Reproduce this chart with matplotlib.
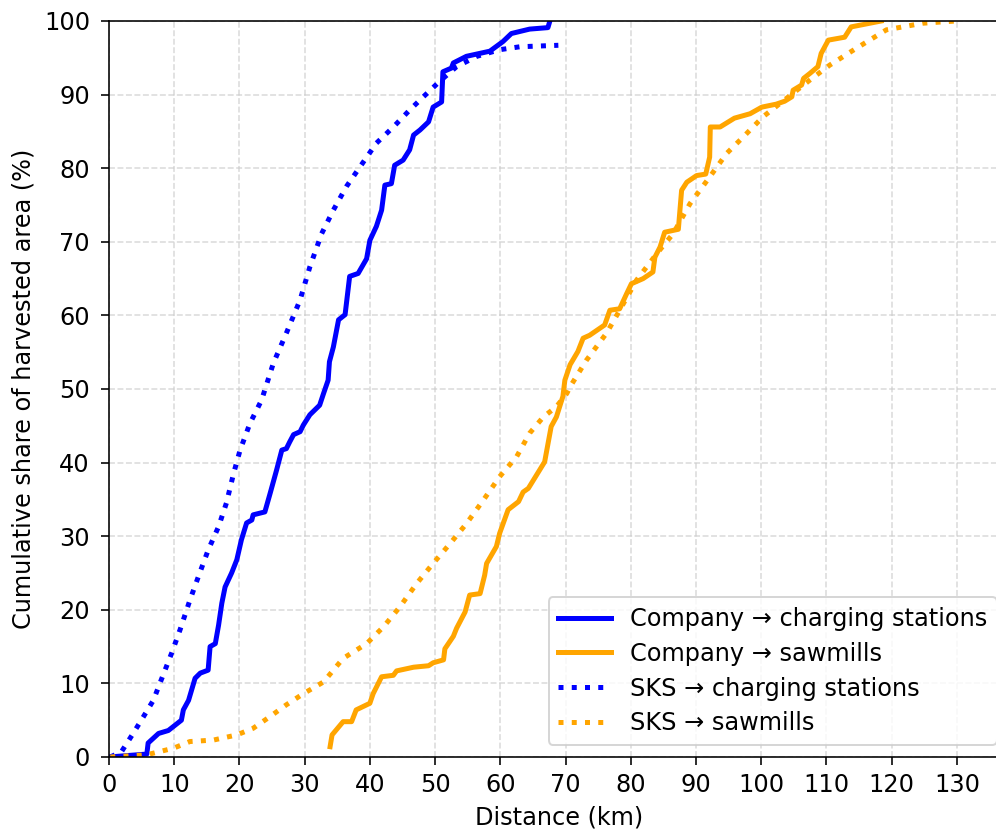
import matplotlib
matplotlib.use("Agg")
import matplotlib.pyplot as plt

# Company -> charging stations
cc_x = [0.0, 5.8, 6.0, 7.6, 9.1, 11.1, 11.4, 12.2, 13.2, 14.0, 15.2, 15.5, 16.3, 16.8, 17.3, 17.8,
        18.8, 19.6, 20.3, 21.1, 21.9, 22.1, 23.9, 24.7, 25.7, 26.5, 27.2, 27.7, 28.3, 29.3, 29.8,
        30.8, 32.3, 32.9, 33.6, 33.8, 34.4, 35.2, 36.2, 36.9, 38.2, 39.5, 40.0, 41.0, 41.8, 42.3,
        43.3, 43.8, 45.1, 46.1, 46.7, 47.7, 49.0, 49.7, 51.0, 51.2, 52.5, 52.8, 54.8, 58.4, 60.4,
        61.7, 64.5, 67.3, 67.6]
cc_y = [0.0, 0.4, 1.9, 3.2, 3.6, 5.0, 6.4, 7.7, 10.7, 11.4, 11.8, 15.0, 15.4, 17.9, 20.9, 23.1,
        25.0, 26.8, 29.5, 31.8, 32.2, 32.9, 33.3, 35.8, 39.0, 41.7, 41.9, 42.8, 43.8, 44.2, 45.1,
        46.5, 47.8, 49.4, 51.2, 53.7, 55.7, 59.4, 60.1, 65.3, 65.7, 67.7, 70.2, 72.1, 74.3, 77.7,
        77.9, 80.4, 81.1, 82.5, 84.5, 85.2, 86.3, 88.3, 89.0, 93.1, 93.6, 94.3, 95.2, 95.9, 97.2,
        98.3, 98.9, 99.1, 100.0]

# Company -> sawmills
cs_x = [33.9, 34.2, 35.9, 37.2, 37.9, 40.0, 40.5, 41.8, 43.6, 44.1, 46.7, 49.0, 49.7, 51.3, 51.5,
        52.8, 53.3, 54.6, 55.3, 56.9, 57.6, 57.9, 59.4, 59.9, 61.2, 62.8, 63.5, 64.3, 66.8, 67.8,
        68.6, 69.6, 69.9, 70.7, 71.9, 72.7, 73.7, 76.0, 76.8, 78.3, 79.4, 80.1, 81.9, 83.4, 83.7,
        84.5, 85.2, 87.3, 87.8, 88.6, 90.1, 91.5, 92.1, 92.2, 93.7, 95.9, 98.3, 100.1, 102.3,
        103.6, 104.7, 104.9, 106.2, 106.5, 107.5, 108.7, 109.2, 110.3, 112.8, 113.8, 116.1, 118.4]
cs_y = [1.4, 3.0, 4.8, 4.8, 6.4, 7.3, 8.6, 10.9, 11.1, 11.7, 12.2, 12.4, 12.8, 13.2, 14.7,
        16.4, 17.5, 19.7, 22.0, 22.2, 24.7, 26.3, 28.6, 30.4, 33.6, 34.7, 36.0, 36.5, 40.1, 44.9,
        46.2, 49.0, 51.2, 53.3, 55.1, 56.9, 57.3, 58.7, 60.7, 60.9, 63.0, 64.3, 65.0, 65.9, 67.9,
        69.3, 71.3, 71.7, 77.0, 78.1, 79.0, 79.2, 81.5, 85.6, 85.6, 86.8, 87.4, 88.3, 88.7,
        89.1, 89.7, 90.6, 91.3, 92.2, 92.9, 93.8, 95.6, 97.4, 97.8, 99.2, 99.6, 100.0]

# SKS -> charging stations
sc_x = [0.2, 1.9, 3.7, 5.3, 6.8, 7.8, 9.6, 10.9, 12.4, 13.7, 15.2, 16.8, 18.0, 19.1, 20.1, 21.6,
        23.4, 25.2, 27.2, 29.3, 30.8, 32.6, 34.4, 36.4, 38.5, 41.0, 43.6, 46.1, 48.2, 50.7, 53.3,
        56.4, 59.9, 63.0, 68.9]
sc_y = [0.0, 0.7, 3.2, 5.5, 7.7, 10.0, 14.1, 17.3, 21.3, 24.5, 28.1, 31.3, 34.5, 38.5, 41.7, 45.3,
        48.5, 53.5, 57.6, 62.1, 66.6, 71.1, 74.3, 77.5, 80.2, 83.4, 85.6, 87.9, 89.7, 91.8, 93.8,
        95.2, 96.1, 96.5, 96.7]

# SKS -> sawmills
ss_x = [0.2, 5.8, 7.6, 9.9, 12.4, 16.0, 19.6, 22.1, 24.7, 27.2, 29.8, 32.9, 34.4, 35.9, 39.5,
        42.1, 44.6, 47.2, 49.7, 52.3, 54.8, 57.4, 59.9, 62.5, 64.5, 66.6, 68.6, 70.2, 70.7, 73.2,
        76.3, 78.3, 80.9, 84.0, 86.5, 89.1, 92.1, 94.7, 97.2, 100.3, 103.9, 107.5, 110.5, 114.6,
        119.2, 124.8, 129.9]
ss_y = [0.0, 0.3, 0.7, 1.2, 2.1, 2.3, 3.0, 3.9, 5.5, 7.1, 8.6, 10.2, 11.8, 13.4, 15.4,
        17.7, 20.4, 23.6, 26.3, 29.0, 31.7, 34.9, 38.1, 40.8, 44.0, 46.2, 47.6, 49.4, 50.3, 53.9,
        57.6, 60.7, 64.8, 68.4, 71.1, 75.2, 78.8, 82.0, 84.2, 87.0, 89.5, 92.0, 94.0, 96.3,
        98.8, 99.7, 100.0]

labels = ["Company \u2192 charging stations", "Company \u2192 sawmills",
          "SKS \u2192 charging stations", "SKS \u2192 sawmills"]

DPI = 144
W, H = 996, 830
fig = plt.figure(figsize=(W / DPI, H / DPI), dpi=DPI)
# axes extends slightly past the right edge of the image (cropped right spine)
ax = fig.add_axes([109 / W, (H - 757) / H, (1009 - 109) / W, (757 - 21) / H])

lw = 2.5
ax.plot(cc_x, cc_y, color="blue", lw=lw, ls="-", label=labels[0])
ax.plot(cs_x, cs_y, color="orange", lw=lw, ls="-", label=labels[1])
ax.plot(sc_x, sc_y, color="blue", lw=lw, ls=":", label=labels[2])
ax.plot(ss_x, ss_y, color="orange", lw=lw, ls=":", label=labels[3])

fs = 12
ax.set_xlim(0, 138.0)
ax.set_ylim(0, 100)
ax.set_xticks(range(0, 131, 10))
ax.set_yticks(range(0, 101, 10))
ax.tick_params(axis="x", labelsize=fs, length=4, pad=4)
ax.tick_params(axis="y", labelsize=fs, length=4, pad=5.5)
ax.grid(True, ls="--", color="#cccccc", alpha=0.7, lw=0.8)
ax.set_axisbelow(True)

ax.set_xlabel("Distance (km)", fontsize=fs)
ax.set_ylabel("Cumulative share of harvested area (%)", fontsize=fs)

ax.legend(loc="lower right", fontsize=fs, handlelength=2.2, labelspacing=0.45)

fig.savefig("out.png", dpi=DPI)
